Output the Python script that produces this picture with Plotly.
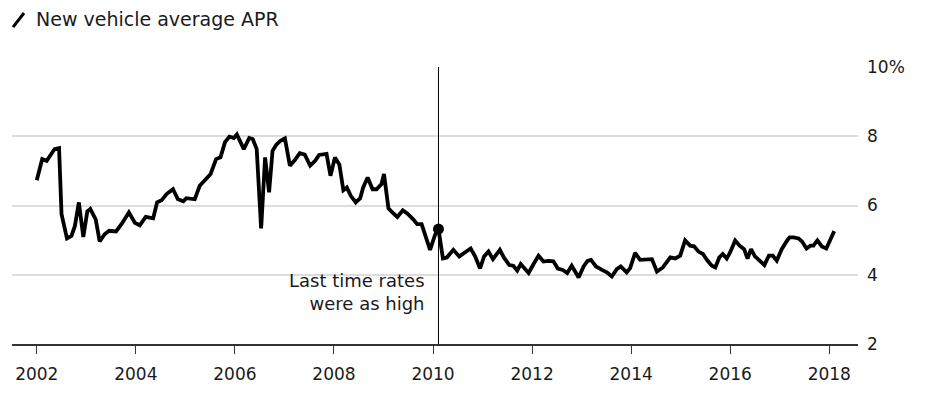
import plotly.graph_objects as go

# Monthly-ish readings (decimal year) of new vehicle average APR, %
years = [2002.0, 2002.11, 2002.2, 2002.28, 2002.36, 2002.45, 2002.5, 2002.61, 2002.7, 2002.77,
         2002.85, 2002.94, 2003.02, 2003.08, 2003.19, 2003.27, 2003.37, 2003.46, 2003.6, 2003.71,
         2003.86, 2003.98, 2004.08, 2004.2, 2004.35, 2004.43, 2004.52, 2004.62, 2004.75, 2004.85,
         2004.96, 2005.02, 2005.19, 2005.29, 2005.39, 2005.51, 2005.62, 2005.71, 2005.8, 2005.89,
         2005.98, 2006.04, 2006.18, 2006.29, 2006.36, 2006.44, 2006.53, 2006.61, 2006.69, 2006.76,
         2006.84, 2006.92, 2007.01, 2007.11, 2007.21, 2007.31, 2007.41, 2007.52, 2007.62, 2007.7,
         2007.85, 2007.93, 2008.02, 2008.11, 2008.19, 2008.26, 2008.34, 2008.44, 2008.53, 2008.59,
         2008.68, 2008.78, 2008.86, 2008.96, 2009.01, 2009.1, 2009.2, 2009.28, 2009.39, 2009.48,
         2009.6, 2009.68, 2009.77, 2009.86, 2009.94, 2010.04, 2010.11, 2010.2, 2010.28, 2010.41,
         2010.53, 2010.65, 2010.76, 2010.85, 2010.95, 2011.03, 2011.12, 2011.21, 2011.35, 2011.43,
         2011.54, 2011.62, 2011.7, 2011.77, 2011.93, 2012.03, 2012.13, 2012.23, 2012.33, 2012.43,
         2012.52, 2012.62, 2012.71, 2012.8, 2012.94, 2013.04, 2013.12, 2013.19, 2013.29, 2013.41,
         2013.51, 2013.61, 2013.71, 2013.79, 2013.91, 2013.98, 2014.08, 2014.18, 2014.3, 2014.42,
         2014.52, 2014.64, 2014.79, 2014.89, 2014.99, 2015.09, 2015.19, 2015.27, 2015.36, 2015.45,
         2015.54, 2015.63, 2015.7, 2015.78, 2015.85, 2015.93, 2016.0, 2016.1, 2016.19, 2016.28,
         2016.35, 2016.42, 2016.5, 2016.61, 2016.69, 2016.78, 2016.86, 2016.94, 2017.04, 2017.15,
         2017.2, 2017.28, 2017.38, 2017.45, 2017.54, 2017.62, 2017.68, 2017.76, 2017.85, 2017.94,
         2018.1]

apr = [6.73, 7.34, 7.29, 7.44, 7.63, 7.66, 5.75, 5.05, 5.12, 5.41,
       6.09, 5.09, 5.83, 5.9, 5.6, 4.96, 5.17, 5.27, 5.25, 5.46,
       5.8, 5.5, 5.43, 5.67, 5.63, 6.09, 6.15, 6.33, 6.47, 6.18,
       6.12, 6.21, 6.18, 6.57, 6.73, 6.91, 7.34, 7.39, 7.83, 7.99,
       7.95, 8.05, 7.63, 7.95, 7.92, 7.63, 5.34, 7.39, 6.38, 7.58,
       7.76, 7.87, 7.94, 7.15, 7.31, 7.51, 7.47, 7.15, 7.29, 7.46,
       7.49, 6.86, 7.39, 7.18, 6.44, 6.52, 6.28, 6.09, 6.21, 6.52,
       6.81, 6.47, 6.47, 6.62, 6.91, 5.92, 5.77, 5.67, 5.86, 5.77,
       5.6, 5.46, 5.46, 5.07, 4.72, 5.15, 5.32, 4.47, 4.5, 4.72,
       4.53, 4.65, 4.76, 4.53, 4.18, 4.53, 4.67, 4.45, 4.72, 4.5,
       4.28, 4.26, 4.12, 4.31, 4.05, 4.31, 4.55, 4.38, 4.4, 4.39,
       4.18, 4.14, 4.05, 4.26, 3.92, 4.24, 4.4, 4.43, 4.24, 4.14,
       4.07, 3.95, 4.16, 4.24, 4.07, 4.19, 4.63, 4.43, 4.43, 4.45,
       4.09, 4.21, 4.5, 4.47, 4.55, 4.99, 4.84, 4.82, 4.67, 4.6,
       4.41, 4.26, 4.21, 4.5, 4.6, 4.47, 4.65, 4.99, 4.84, 4.74,
       4.47, 4.74, 4.53, 4.38, 4.28, 4.55, 4.55, 4.41, 4.74, 4.99,
       5.08, 5.08, 5.05, 4.96, 4.76, 4.84, 4.84, 4.99, 4.82, 4.76,
       5.26]

# Highlighted point: last time rates were as high
highlight_year = 2010.11
highlight_apr = 5.32

x_tick_vals = [2002, 2004, 2006, 2008, 2010, 2012, 2014, 2016, 2018]
x_tick_text = ["2002", "2004", "2006", "2008", "2010", "2012", "2014", "2016", "2018"]
y_tick_vals = [2, 4, 6, 8, 10]
y_tick_text = ["2", "4", "6", "8", "10%"]

title_text = "New vehicle average APR"
note_text = "Last time rates<br>were as high"

FONT = "DejaVu Sans"
TXT = "#1a1a1a"

fig = go.Figure()
fig.add_trace(go.Scatter(
    x=years, y=apr, mode="lines",
    line=dict(color="#000000", width=3.8),
    hoverinfo="skip", showlegend=False,
))
fig.add_trace(go.Scatter(
    x=[highlight_year], y=[highlight_apr], mode="markers",
    marker=dict(color="#000000", size=11),
    hoverinfo="skip", showlegend=False,
))

# vertical reference line
fig.add_shape(type="line", xref="x", yref="y",
              x0=highlight_year, x1=highlight_year, y0=2, y1=10,
              line=dict(color="#000000", width=1), layer="above")

# legend-style slash icon
fig.add_shape(type="line", xref="paper", yref="paper",
              x0=0.0012, y0=1.144, x1=0.0142, y1=1.195,
              line=dict(color="#000000", width=3))

fig.add_annotation(text=title_text, xref="paper", yref="paper",
                   x=0.0262, y=1.173, xanchor="left", yanchor="middle",
                   showarrow=False, font=dict(family=FONT, size=19, color=TXT))

fig.add_annotation(text=note_text, xref="x", yref="y",
                   x=highlight_year, y=3.5, xanchor="right", yanchor="middle",
                   xshift=-11, align="right", showarrow=False,
                   font=dict(family=FONT, size=18, color=TXT))

fig.update_layout(
    width=939, height=397,
    margin=dict(l=4, r=89, t=59, b=61),
    paper_bgcolor="#ffffff", plot_bgcolor="#ffffff",
    font=dict(family=FONT, size=17, color=TXT),
    xaxis=dict(
        range=[2001.5, 2018.58],
        tickmode="array", tickvals=x_tick_vals, ticktext=x_tick_text,
        ticks="outside", ticklen=8, tickwidth=1, tickcolor="#333333",
        showline=True, linecolor="#333333", linewidth=1.5,
        showgrid=False, zeroline=False,
        ticklabelstandoff=6,
        tickfont=dict(family=FONT, size=17, color=TXT),
    ),
    yaxis=dict(
        range=[2, 10], side="right",
        tickmode="array", tickvals=y_tick_vals, ticktext=y_tick_text,
        ticks="", showline=False, zeroline=False,
        showgrid=True, gridcolor="#dcdcdc", gridwidth=1.5,
        ticklabelstandoff=8,
        tickfont=dict(family=FONT, size=17, color=TXT),
    ),
)

fig.write_html("out.html")
